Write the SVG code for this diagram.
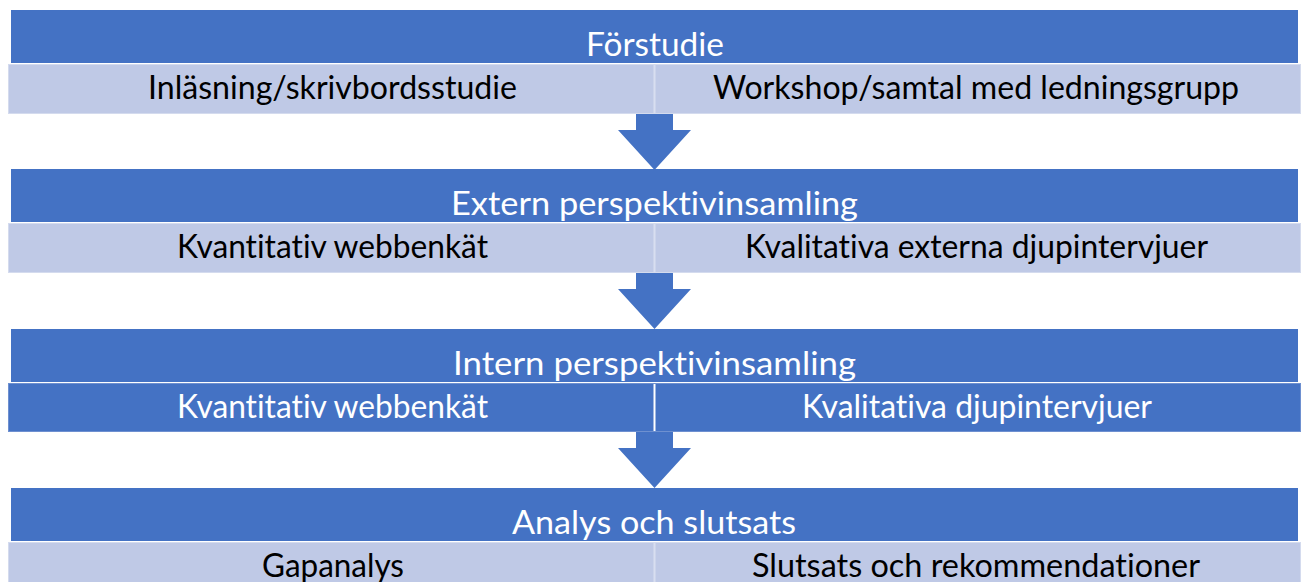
<svg xmlns="http://www.w3.org/2000/svg" width="1301" height="582" viewBox="0 0 1301 582">
<style>
.hdr{fill:#4472C4}
.sub{fill:#BFC9E6;stroke:#D4DBEE;stroke-width:1}
.subd{fill:#4472C4;stroke:#6E90D0;stroke-width:1}
.div{stroke:#D8DEF0;stroke-width:2}
.divd{stroke:#FFFFFF;stroke-width:2}
.arrow{fill:#4472C4}
text{font-family:Lato,"Open Sans","Liberation Sans",sans-serif;font-size:32px;text-anchor:middle;font-variant-ligatures:none}
.w{fill:#FFFFFF}
.k{fill:#000000}
</style>
<rect width="1301" height="582" fill="#FFFFFF"/>
<g id="connectors">
<polygon class="arrow" points="636,113 673,113 673,130 691,130 654.5,170 618,130 636,130"/>
<polygon class="arrow" points="636,272 673,272 673,289 691,289 654.5,329 618,289 636,289"/>
<polygon class="arrow" points="636,431 673,431 673,448 691,448 654.5,488 618,448 636,448"/>
</g>
<g id="forstudie">
<rect class="hdr" x="11" y="10" width="1287" height="53"/>
<text class="w" x="655" y="56" textLength="138" lengthAdjust="spacingAndGlyphs">Förstudie</text>
<rect class="sub" x="8.5" y="64.5" width="1292" height="49"/>
<line class="div" x1="654.5" y1="65" x2="654.5" y2="113"/>
<text class="k" x="332.5" y="99" textLength="369" lengthAdjust="spacingAndGlyphs">Inläsning/skrivbordsstudie</text>
<text class="k" x="976" y="99" textLength="526" lengthAdjust="spacingAndGlyphs">Workshop/samtal med ledningsgrupp</text>
</g>
<g id="extern">
<rect class="hdr" x="11" y="169" width="1287" height="53"/>
<text class="w" x="654.5" y="215" textLength="407" lengthAdjust="spacingAndGlyphs">Extern perspektivinsamling</text>
<rect class="sub" x="8.5" y="223.5" width="1292" height="49"/>
<line class="div" x1="654.5" y1="224" x2="654.5" y2="272"/>
<text class="k" x="332.5" y="258" textLength="311" lengthAdjust="spacingAndGlyphs">Kvantitativ webbenkät</text>
<text class="k" x="976.5" y="258" textLength="463" lengthAdjust="spacingAndGlyphs">Kvalitativa externa djupintervjuer</text>
</g>
<g id="intern">
<rect class="hdr" x="11" y="329" width="1287" height="53"/>
<text class="w" x="654.5" y="375" textLength="403" lengthAdjust="spacingAndGlyphs">Intern perspektivinsamling</text>
<rect class="subd" x="8.5" y="383.5" width="1292" height="48"/>
<line class="divd" x1="654.5" y1="384" x2="654.5" y2="431"/>
<text class="w" x="332.5" y="418" textLength="311" lengthAdjust="spacingAndGlyphs">Kvantitativ webbenkät</text>
<text class="w" x="977" y="418" textLength="350" lengthAdjust="spacingAndGlyphs">Kvalitativa djupintervjuer</text>
</g>
<g id="analys">
<rect class="hdr" x="11" y="488" width="1287" height="53"/>
<text class="w" x="654" y="534" textLength="284" lengthAdjust="spacingAndGlyphs">Analys och slutsats</text>
<rect class="sub" x="8.5" y="542.5" width="1292" height="49"/>
<line class="div" x1="654.5" y1="543" x2="654.5" y2="582"/>
<text class="k" x="333" y="577" textLength="142" lengthAdjust="spacingAndGlyphs">Gapanalys</text>
<text class="k" x="976" y="577" textLength="448" lengthAdjust="spacingAndGlyphs">Slutsats och rekommendationer</text>
</g>
</svg>
